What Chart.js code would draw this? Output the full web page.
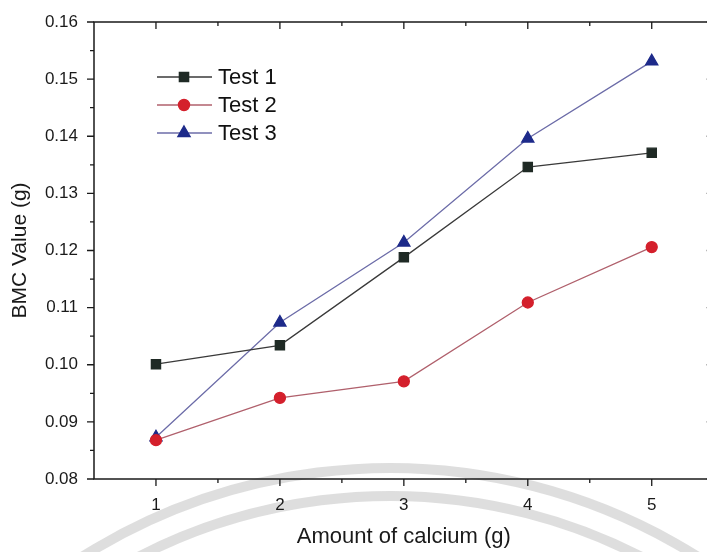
<!DOCTYPE html>
<html>
<head>
<meta charset="utf-8">
<script src="https://cdn.jsdelivr.net/npm/chart.js@4/dist/chart.umd.min.js"></script>
<style>
  html, body { margin: 0; padding: 0; background: #fff; overflow: hidden; }
  #wrap { width: 722px; height: 552px; }
</style>
</head>
<body>
<div id="wrap"><canvas id="bmcChart" width="722" height="552"></canvas></div>
<script>
// Chart data
const calcium = [1, 2, 3, 4, 5];
const test1 = [0.1001, 0.1034, 0.1188, 0.1346, 0.1371];
const test2 = [0.0868, 0.0942, 0.0971, 0.1109, 0.1206];
const test3 = [0.0873, 0.1074, 0.1214, 0.1396, 0.1531];
const seriesNames = ['Test 1', 'Test 2', 'Test 3'];
const xTicks = [1, 2, 3, 4, 5];
const yTicks = [0.08, 0.09, 0.10, 0.11, 0.12, 0.13, 0.14, 0.15, 0.16];

const FONT = '"Liberation Sans", Arial, sans-serif';

function toPoints(values) {
    return calcium.map((x, i) => ({ x: x, y: values[i] }));
}

// Faint watermark arcs from the scanned page
const watermark = {
    id: 'watermark',
    beforeDraw(chart) {
        const ctx = chart.ctx;
        ctx.save();
        ctx.strokeStyle = 'rgba(200,200,200,0.6)';
        ctx.lineWidth = 10;
        ctx.beginPath();
        ctx.arc(390, 1046, 578, Math.PI * 1.08, Math.PI * 1.92);
        ctx.stroke();
        ctx.beginPath();
        ctx.arc(390, 1046, 550, Math.PI * 1.08, Math.PI * 1.92);
        ctx.stroke();
        ctx.restore();
    }
};

// Frame + major/minor ticks on all sides
const frameTicks = {
    id: 'frameTicks',
    afterDraw(chart) {
        const ctx = chart.ctx;
        const a = chart.chartArea;
        const xs = chart.scales.x;
        const ys = chart.scales.y;
        ctx.save();
        ctx.strokeStyle = '#1a1a1a';
        ctx.lineWidth = 1.5;
        ctx.strokeRect(a.left, a.top, a.right - a.left, a.bottom - a.top);
        ctx.lineWidth = 1.3;
        ctx.beginPath();
        for (let v = 1; v <= 5.001; v += 0.5) {
            const px = xs.getPixelForValue(v);
            const major = Math.abs(v - Math.round(v)) < 0.01;
            const len = major ? 7 : 4;
            ctx.moveTo(px, a.bottom); ctx.lineTo(px, a.bottom + len);
            ctx.moveTo(px, a.top); ctx.lineTo(px, a.top + len);
        }
        for (let v = 0.08; v <= 0.1601; v += 0.005) {
            const py = ys.getPixelForValue(v);
            const major = Math.abs(v * 100 - Math.round(v * 100)) < 0.01;
            const len = major ? 7 : 4;
            ctx.moveTo(a.left, py); ctx.lineTo(a.left - len, py);
            ctx.moveTo(a.right, py); ctx.lineTo(a.right - len, py);
        }
        ctx.stroke();
        ctx.restore();
    }
};

// Legend drawn inside the plot area
const insideLegend = {
    id: 'insideLegend',
    afterDatasetsDraw(chart) {
        const ctx = chart.ctx;
        ctx.save();
        chart.data.datasets.forEach((ds, i) => {
            const y = 77 + i * 28;
            ctx.strokeStyle = ds.borderColor;
            ctx.lineWidth = 1.4;
            ctx.beginPath();
            ctx.moveTo(157, y); ctx.lineTo(212, y);
            ctx.stroke();
            ctx.fillStyle = ds.pointBackgroundColor;
            ctx.strokeStyle = ds.pointBorderColor;
            Chart.helpers.drawPoint(ctx, {
                pointStyle: ds.pointStyle,
                radius: ds.pointRadius,
                borderWidth: 1
            }, 184, y);
            ctx.fillStyle = '#111';
            ctx.font = '22px ' + FONT;
            ctx.textBaseline = 'middle';
            ctx.fillText(seriesNames[i], 218, y + 1);
        });
        ctx.restore();
    }
};

const ctx = document.getElementById('bmcChart').getContext('2d');
new Chart(ctx, {
    type: 'line',
    data: {
        datasets: [
            {
                label: seriesNames[0],
                data: toPoints(test1),
                borderColor: '#3a3a3a',
                borderWidth: 1.3,
                pointStyle: 'rect',
                pointRadius: 6.5,
                pointBackgroundColor: '#1f2a25',
                pointBorderColor: '#1f2a25',
                tension: 0
            },
            {
                label: seriesNames[1],
                data: toPoints(test2),
                borderColor: '#b0606c',
                borderWidth: 1.3,
                pointStyle: 'circle',
                pointRadius: 5.5,
                pointBackgroundColor: '#d4202c',
                pointBorderColor: '#d4202c',
                tension: 0
            },
            {
                label: seriesNames[2],
                data: toPoints(test3),
                borderColor: '#6c6ca8',
                borderWidth: 1.3,
                pointStyle: 'triangle',
                pointRadius: 7,
                pointBackgroundColor: '#1d2a8a',
                pointBorderColor: '#1d2a8a',
                tension: 0
            }
        ]
    },
    options: {
        responsive: false,
        animation: false,
        layout: { padding: { top: 22, right: 8, left: 0, bottom: 0 } },
        plugins: {
            legend: { display: false },
            tooltip: { enabled: false }
        },
        scales: {
            x: {
                type: 'linear',
                min: 0.5,
                max: 5.5,
                afterBuildTicks: (axis) => { axis.ticks = xTicks.map(v => ({ value: v })); },
                afterFit: (axis) => {
                    axis.height = 73;
                    axis.paddingLeft = 0;
                    axis.paddingRight = 0;
                },
                grid: { drawOnChartArea: false, drawTicks: false },
                border: { display: false },
                ticks: {
                    padding: 16,
                    color: '#1a1a1a',
                    font: { family: FONT, size: 17 },
                    callback: (v) => String(v)
                },
                title: {
                    display: true,
                    text: 'Amount of calcium (g)',
                    color: '#1a1a1a',
                    font: { family: FONT, size: 22 },
                    padding: { top: 2, bottom: 2 }
                }
            },
            y: {
                type: 'linear',
                min: 0.08,
                max: 0.16,
                afterBuildTicks: (axis) => { axis.ticks = yTicks.map(v => ({ value: v })); },
                afterFit: (axis) => {
                    axis.width = 94;
                    axis.paddingTop = 0;
                    axis.paddingBottom = 0;
                },
                grid: { drawOnChartArea: false, drawTicks: false },
                border: { display: false },
                ticks: {
                    padding: 16,
                    color: '#1a1a1a',
                    font: { family: FONT, size: 17 },
                    callback: (v) => v.toFixed(2)
                },
                title: {
                    display: true,
                    text: 'BMC Value (g)',
                    color: '#1a1a1a',
                    font: { family: FONT, size: 21 },
                    padding: { top: 8, bottom: 2 }
                }
            }
        }
    },
    plugins: [watermark, frameTicks, insideLegend]
});
</script>
</body>
</html>
